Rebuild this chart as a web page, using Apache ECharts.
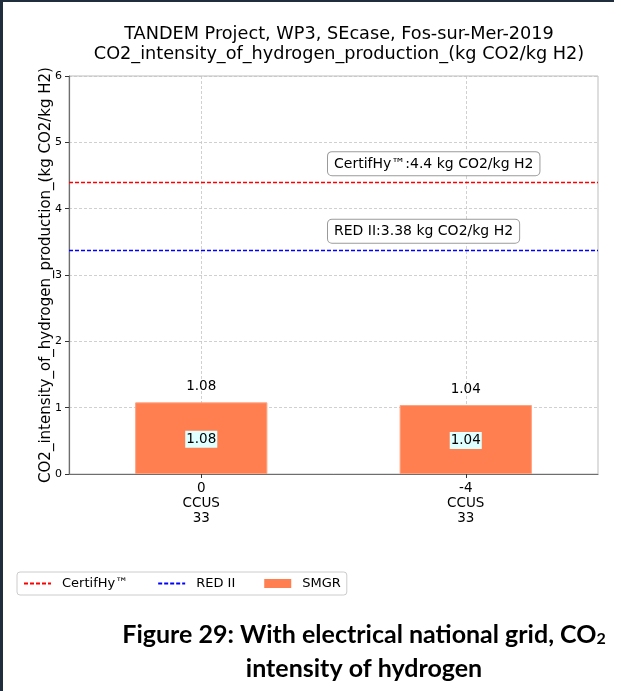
<!DOCTYPE html>
<html>
<head>
<meta charset="utf-8">
<script src="https://cdn.jsdelivr.net/npm/echarts@6/dist/echarts.min.js"></script>
<style>
  html, body { margin: 0; padding: 0; background: #ffffff; }
  #chart { width: 621px; height: 691px; }
</style>
</head>
<body>
<div id="chart"></div>
<script>
// Category labels (three-line ticks) and SMGR intensities
const categories = ['0\nCCUS\n33', '-4\nCCUS\n33'];
const smgrValues = [1.08, 1.04];

// Reference thresholds (kg CO2 / kg H2)
const certifhyLimit = 4.4;
const red2Limit = 3.38;

// Y axis ticks
const yMin = 0, yMax = 6, yStep = 1;

const FONT = 'DejaVu Sans';
const chart = echarts.init(document.getElementById('chart'), null, { renderer: 'canvas' });

const gridLeft = 69, gridTop = 76, gridRight = 23, gridBottom = 217;

const boxLabel = {
  show: true,
  position: 'insideStartTop',
  offset: [254, -2],
  fontFamily: FONT,
  fontSize: 14,
  color: '#000',
  backgroundColor: '#fff',
  borderColor: '#9a9a9a',
  borderWidth: 1,
  borderRadius: 4,
  padding: [5, 6, 4, 6]
};

const hiddenSymbol = { opacity: 0 };

chart.setOption({
  animation: false,
  backgroundColor: '#ffffff',
  textStyle: { fontFamily: FONT },
  title: {
    text: 'TANDEM Project, WP3, SEcase, Fos-sur-Mer-2019\nCO2_intensity_of_hydrogen_production_(kg CO2/kg H2)',
    left: 334,
    top: 19,
    textAlign: 'center',
    textStyle: { fontFamily: FONT, fontSize: 17.7, fontWeight: 'normal', color: '#000', lineHeight: 20 }
  },
  legend: {
    left: 17,
    top: 572,
    orient: 'horizontal',
    itemWidth: 27,
    itemHeight: 9,
    itemGap: 29,
    padding: [5, 6, 5, 6],
    borderColor: '#cccccc',
    borderWidth: 1,
    borderRadius: 3,
    textStyle: { fontFamily: FONT, fontSize: 13, color: '#000', padding: [0, 0, 0, 6] },
    data: [
      { name: 'CertifHy™', itemStyle: hiddenSymbol },
      { name: 'RED II', itemStyle: hiddenSymbol },
      { name: 'SMGR', icon: 'rect', itemStyle: { borderWidth: 0 } }
    ]
  },
  grid: {
    left: gridLeft, top: gridTop, right: gridRight, bottom: gridBottom,
    show: true, borderColor: '#bdbdbd', borderWidth: 1
  },
  xAxis: {
    type: 'category',
    data: categories,
    axisLine: { lineStyle: { color: '#6e6e6e', width: 1.2 } },
    axisTick: { show: true, alignWithLabel: true, length: 4, lineStyle: { color: '#333' } },
    axisLabel: { color: '#000', fontFamily: FONT, fontSize: 13.5, lineHeight: 15, margin: 7 },
    splitLine: { show: false }
  },
  yAxis: {
    type: 'value',
    min: yMin, max: yMax, interval: yStep,
    name: 'CO2_intensity_of_hydrogen_production_(kg CO2/kg H2)',
    nameLocation: 'middle',
    nameGap: 15,
    nameMoveOverlap: false,
    nameTextStyle: { fontFamily: FONT, fontSize: 15, color: '#000' },
    axisLine: { show: true, lineStyle: { color: '#6e6e6e', width: 1.2 } },
    axisTick: { show: true, length: 4, lineStyle: { color: '#333' } },
    axisLabel: { color: '#000', fontFamily: FONT, fontSize: 11, margin: 7 },
    splitLine: { show: true, lineStyle: { color: '#c4c4c4', type: [3, 2], width: 0.8 } }
  },
  series: [
    {
      name: 'SMGR',
      type: 'bar',
      data: smgrValues,
      barWidth: '50%',
      barGap: '-100%',
      z: 3,
      itemStyle: { color: '#ff7f50', borderColor: '#ffa27f', borderWidth: 1 },
      label: {
        show: true,
        position: 'inside',
        formatter: p => p.value.toFixed(2),
        fontFamily: FONT,
        fontSize: 13.5,
        color: '#000',
        backgroundColor: '#e0ffff',
        padding: [2, 1, 1, 1],
        offset: [0, 1]
      },
      markLine: {
        silent: true,
        symbol: 'none',
        label: { show: false },
        lineStyle: { color: '#c4c4c4', type: [3, 2], width: 0.8 },
        z: 1,
        data: [{ xAxis: 0 }, { xAxis: 1 }]
      }
    },
    {
      // value printed above each bar
      name: 'SMGR values',
      type: 'bar',
      data: smgrValues,
      barWidth: '50%',
      barGap: '-100%',
      z: 4,
      itemStyle: { color: 'rgba(0,0,0,0)' },
      label: {
        show: true,
        position: 'top',
        distance: 9,
        formatter: p => p.value.toFixed(2),
        fontFamily: FONT,
        fontSize: 13.5,
        color: '#000'
      },
      tooltip: { show: false }
    },
    {
      name: 'CertifHy™',
      type: 'line',
      data: [],
      symbol: 'none',
      itemStyle: { color: '#ff0000' },
      lineStyle: { color: '#ff0000', type: [4, 2], width: 1.3 },
      markLine: {
        silent: true,
        symbol: 'none',
        lineStyle: { color: '#ff0000', type: [4, 2], width: 1.3 },
        label: Object.assign({}, boxLabel, { formatter: 'CertifHy™:' + certifhyLimit + ' kg CO2/kg H2' }),
        data: [{ yAxis: certifhyLimit }]
      }
    },
    {
      name: 'RED II',
      type: 'line',
      data: [],
      symbol: 'none',
      itemStyle: { color: '#0000ff' },
      lineStyle: { color: '#0000ff', type: [4, 2], width: 1.3 },
      markLine: {
        silent: true,
        symbol: 'none',
        lineStyle: { color: '#0000ff', type: [4, 2], width: 1.3 },
        label: Object.assign({}, boxLabel, { formatter: 'RED II:' + red2Limit + ' kg CO2/kg H2' }),
        data: [{ yAxis: red2Limit }]
      }
    }
  ],
  graphic: [
    // page frame edges
    { type: 'rect', shape: { x: 0, y: 0, width: 3, height: 691 }, style: { fill: '#1f2d3d' }, silent: true },
    { type: 'rect', shape: { x: 0, y: 0, width: 614, height: 2 }, style: { fill: '#1f2d3d' }, silent: true },
    // figure caption, two centred lines
    {
      type: 'text', x: 364, y: 622,
      style: {
        text: '{m|Figure 29: With electrical national grid, CO}{s|2}',
        align: 'center',
        rich: {
          m: { fontFamily: 'Lato', fontWeight: 'bold', fontSize: 25, color: '#000' },
          s: { fontFamily: 'Lato', fontWeight: 'bold', fontSize: 16, color: '#000', verticalAlign: 'bottom', padding: [8, 0, 0, 0] }
        }
      }
    },
    {
      type: 'text', x: 364, y: 656,
      style: { text: 'intensity of hydrogen', align: 'center', fontFamily: 'Lato', fontWeight: 'bold', fontSize: 25, fill: '#000' }
    }
  ]
});
</script>
</body>
</html>
